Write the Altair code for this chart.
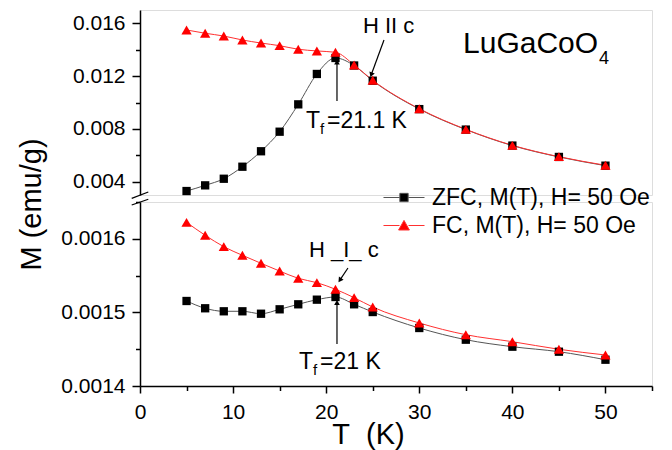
import altair as alt
import pandas as pd

FONT = "Liberation Sans"

# ---------------- data ----------------
T = [5, 7, 9, 11, 13, 15, 17, 19, 21, 23, 25, 30, 35, 40, 45, 50]
zfc_par = [0.00330, 0.00373, 0.00423, 0.00514, 0.00631, 0.00779, 0.00986, 0.01216, 0.01337,
           0.01280, 0.01165, 0.00950, 0.00795, 0.00674, 0.00588, 0.00522]
fc_par = [0.01549, 0.01524, 0.01503, 0.01473, 0.01450, 0.01430, 0.01403, 0.01390, 0.01380,
          0.01284, 0.01168, 0.00953, 0.00797, 0.00676, 0.00590, 0.00525]
zfc_perp = [0.0015155, 0.0015056, 0.0015015, 0.0015015, 0.0014982, 0.0015042, 0.0015110, 0.0015173,
            0.0015209, 0.0015110, 0.0015005, 0.0014788, 0.0014629, 0.0014534, 0.0014466, 0.0014357]
fc_perp = [0.0016224, 0.0016048, 0.0015893, 0.0015776, 0.0015667, 0.0015562, 0.0015463, 0.0015404,
           0.0015314, 0.0015200, 0.0015073, 0.0014856, 0.0014697, 0.0014602, 0.0014499, 0.0014421]
series_names = ["ZFC, M(T), H= 50 Oe", "FC, M(T), H= 50 Oe"]

x_domain = [0, 55]
x_major = [0, 10, 20, 30, 40, 50]
x_minor = [5, 15, 25, 35, 45, 55]
y_hi_domain = [0.003, 0.017]
y_hi_major = [0.004, 0.008, 0.012, 0.016]
y_hi_minor = [0.006, 0.010, 0.014]
y_lo_domain = [0.0014, 0.00165]
y_lo_major = [0.0014, 0.0015, 0.0016]
y_lo_minor = [0.00145, 0.00155, 0.00165]

# annotations (data coordinates)
par_label = {"text": "H II c", "T": 23.95, "M": 0.01526}
par_arrow = {"T": 26.21, "M": 0.01473, "T2": 24.84, "M2": 0.01210}
par_tf_arrow = {"T": 21.16, "M": 0.01011, "T2": 21.16, "M2": 0.01306}
par_tf_label = {"T": 17.83, "M": 0.00807, "value": "=21.1 K"}
compound = {"T": 34.70, "M": 0.013746, "text": "LuGaCoO", "sub": "4"}
perp_label = {"text": "H _I_ c", "T": 18.15, "M": 0.0015753}
perp_arrow = {"T": 22.34, "M": 0.00156033, "T2": 21.47, "M2": 0.00154389}
perp_tf_arrow = {"T": 21.16, "M": 0.00145707, "T2": 21.16, "M2": 0.00151345}
perp_tf_label = {"T": 17.08, "M": 0.0014231, "value": "=21 K"}
break_marks = {"T": [-0.89, -0.89], "M": [0.0016550, 0.0016459],
               "T2": [0.89, 0.89], "M2": [0.0016636, 0.0016537]}

hi = pd.DataFrame({"T": T, "ZFC": zfc_par, "FC": fc_par})
lo = pd.DataFrame({"T": T, "ZFC": zfc_perp, "FC": fc_perp})

XS = alt.Scale(domain=x_domain, nice=False, zero=False)


def axis_major(orient, values, fmt=None, title=None, **kw):
    args = dict(orient=orient, values=values, tickSize=7 if orient == "bottom" else 8,
                labelFontSize=21, labelFont=FONT, labelColor="black",
                labelPadding=7 if orient == "left" else 8,
                domain=True, domainColor="black", domainWidth=1.5,
                tickColor="black", tickWidth=1.5, grid=False, labelFlush=False,
                titleFont=FONT, titleFontSize=29, titleColor="black", titleFontWeight="normal")
    if fmt:
        args["format"] = fmt
    args.update(kw)
    return alt.Axis(title=title, **args)


def axis_minor(orient, values):
    return alt.Axis(orient=orient, values=values, labels=False, tickSize=4.5, domain=False,
                    tickColor="black", tickWidth=1.5, grid=False, title=None)


def rule(d, ys):
    return alt.Chart(pd.DataFrame({k: (v if isinstance(v, list) else [v]) for k, v in d.items()})).mark_rule(
        color="black", strokeWidth=1.2).encode(
        x=alt.X("T:Q", scale=XS, axis=None), y=alt.Y("M:Q", scale=ys, axis=None),
        x2="T2:Q", y2="M2:Q")


def head(d, ys, angle):
    return alt.Chart(pd.DataFrame({"T": [d["T2"]], "M": [d["M2"]]})).mark_point(
        shape="triangle-up", filled=True, size=32, color="black", opacity=1, angle=angle).encode(
        x=alt.X("T:Q", scale=XS, axis=None), y=alt.Y("M:Q", scale=ys, axis=None))


def text(t, m, s, ys, size, dx=0, dy=0):
    return alt.Chart(pd.DataFrame({"T": [t], "M": [m], "s": [s]})).mark_text(
        align="left", baseline="alphabetic", font=FONT, fontSize=size, color="black",
        dx=dx, dy=dy).encode(
        x=alt.X("T:Q", scale=XS, axis=None), y=alt.Y("M:Q", scale=ys, axis=None), text="s:N")


def series_layers(df, ys, xa_major, xa_minor, ya_major, ya_minor):
    base = alt.Chart(df)
    zl = base.mark_line(color="#555555", strokeWidth=1, interpolate="monotone").encode(
        x=alt.X("T:Q", scale=XS, axis=xa_major), y=alt.Y("ZFC:Q", scale=ys, axis=ya_major))
    fl = base.mark_line(color="#ff3030", strokeWidth=1, interpolate="monotone").encode(
        x=alt.X("T:Q", scale=XS, axis=None), y=alt.Y("FC:Q", scale=ys, axis=None))
    zp = base.mark_square(size=69, color="black", opacity=1).encode(
        x=alt.X("T:Q", scale=XS, axis=xa_minor), y=alt.Y("ZFC:Q", scale=ys, axis=ya_minor))
    fp = base.mark_point(shape="triangle-up", filled=True, size=105, color="#ff0000", opacity=1).encode(
        x=alt.X("T:Q", scale=XS, axis=None), y=alt.Y("FC:Q", scale=ys, axis=None))
    return [zl, fl, zp, fp]


# ---------------- upper panel (H || c) ----------------
YS_HI = alt.Scale(domain=y_hi_domain, nice=False, zero=False)
upper_layers = series_layers(hi, YS_HI, None, None,
                             axis_major("left", y_hi_major, ".3f"), axis_minor("left", y_hi_minor))
upper_layers += [
    rule(par_arrow, YS_HI), head(par_arrow, YS_HI, 200),
    rule(par_tf_arrow, YS_HI), head(par_tf_arrow, YS_HI, 0),
    text(par_label["T"], par_label["M"], par_label["text"], YS_HI, 22),
    text(par_tf_label["T"], par_tf_label["M"], "T", YS_HI, 23),
    text(par_tf_label["T"], par_tf_label["M"], "f", YS_HI, 15, dx=14, dy=6),
    text(par_tf_label["T"], par_tf_label["M"], par_tf_label["value"], YS_HI, 23, dx=21),
    text(compound["T"], compound["M"], compound["text"], YS_HI, 30),
    text(compound["T"], compound["M"], compound["sub"], YS_HI, 18, dx=136, dy=11),
]
upper = alt.layer(*upper_layers).resolve_axis(x="independent", y="independent").properties(
    width=512, height=185)

# ---------------- lower panel (H _|_ c) ----------------
YS_LO = alt.Scale(domain=y_lo_domain, nice=False, zero=False)
lower_layers = series_layers(
    lo, YS_LO,
    axis_major("bottom", x_major, title="T\u00a0\u00a0(K)", titleX=228, titleY=57,
               titleBaseline="alphabetic", titleAlign="center"),
    axis_minor("bottom", x_minor),
    axis_major("left", y_lo_major, ".4f", title="M (emu/g)", titleX=-109, titleY=2,
               titleBaseline="middle", titleAlign="center", titleAngle=270),
    axis_minor("left", y_lo_minor))

sym_zfc = "M-1.367,0H-0.28M0.28,0H1.367M-0.277,-0.277H0.277V0.277H-0.277Z"
sym_fc = "M-1.367,0H-0.3M0.3,0H1.367M0,-0.34L0.36,0.3H-0.36Z"
leg = alt.Legend(orient="none", legendX=248.5, legendY=172, title=None, labelFont=FONT,
                 labelFontSize=23, labelColor="black", labelLimit=400, symbolSize=900,
                 symbolStrokeWidth=1, labelOffset=12.5, rowPadding=0, padding=0, symbolOpacity=1)
legend_layer = alt.Chart(pd.DataFrame({"series": series_names, "T": [0, 0], "M": [0, 0]})).mark_point(
    filled=True, opacity=1, strokeWidth=1).encode(
    x=alt.X("T:Q", scale=XS, axis=None), y=alt.Y("M:Q", scale=YS_LO, axis=None),
    shape=alt.Shape("series:N", scale=alt.Scale(domain=series_names, range=[sym_zfc, sym_fc]), legend=leg),
    fill=alt.Fill("series:N", scale=alt.Scale(domain=series_names, range=["#000000", "#ff0000"]), legend=leg),
    stroke=alt.Stroke("series:N", scale=alt.Scale(domain=series_names, range=["#555555", "#ff3030"]), legend=leg),
).transform_filter("false")

lower_layers += [
    rule(perp_arrow, YS_LO), head(perp_arrow, YS_LO, 214),
    rule(perp_tf_arrow, YS_LO), head(perp_tf_arrow, YS_LO, 0),
    text(perp_label["T"], perp_label["M"], perp_label["text"], YS_LO, 22),
    text(perp_tf_label["T"], perp_tf_label["M"], "T", YS_LO, 23),
    text(perp_tf_label["T"], perp_tf_label["M"], "f", YS_LO, 15, dx=14, dy=6),
    text(perp_tf_label["T"], perp_tf_label["M"], perp_tf_label["value"], YS_LO, 23, dx=21),
    rule(break_marks, YS_LO),
    legend_layer,
]
lower = alt.layer(*lower_layers).resolve_axis(x="independent", y="independent").properties(
    width=512, height=184)

chart = alt.vconcat(upper, lower, spacing=7, bounds="flush").properties(
    padding={"left": 16, "top": 9, "right": 5, "bottom": 5},
    background="white",
).configure_view(stroke=None).configure(font=FONT)

chart.save("out.html", embed_options={"renderer": "svg", "actions": False})
